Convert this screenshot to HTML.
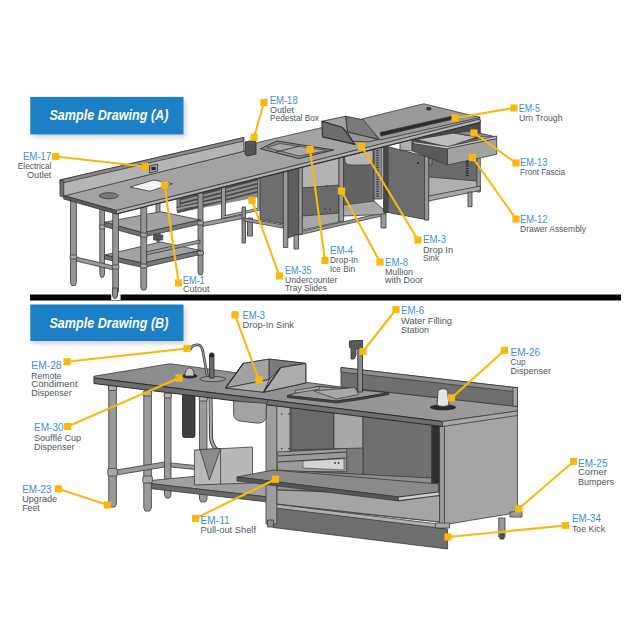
<!DOCTYPE html><html><head><meta charset="utf-8"><style>html,body{margin:0;padding:0;background:#fff;width:640px;height:640px;overflow:hidden}svg{display:block}text{font-family:"Liberation Sans",sans-serif}</style></head><body>
<svg width="640" height="640" viewBox="0 0 640 640">
<defs><filter id="sh" x="-10%" y="-20%" width="130%" height="160%"><feGaussianBlur stdDeviation="2"/></filter></defs>
<g id="drawA" stroke-linejoin="round">
<!-- ===== Tray slides section ===== -->
<g stroke="#3a3a3a" stroke-width="0.8">
  <polygon points="177,194 259,173 259,197 177,213" fill="#8c8c8c" stroke="none"/>
  <g stroke="#4a4a4a" stroke-width="2.4" fill="none">
  <line x1="177" y1="196" x2="259" y2="175.0"/>
  <line x1="177" y1="200" x2="259" y2="179.0"/>
  <line x1="177" y1="204" x2="259" y2="183.0"/>
  <line x1="177" y1="208" x2="259" y2="187.0"/>
  <line x1="177" y1="212" x2="259" y2="191.0"/>
  </g>
  <g stroke="#bdbdbd" stroke-width="0.6" fill="none">
  <line x1="177" y1="195" x2="259" y2="174.0"/>
  <line x1="177" y1="199" x2="259" y2="178.0"/>
  <line x1="177" y1="203" x2="259" y2="182.0"/>
  <line x1="177" y1="207" x2="259" y2="186.0"/>
  <line x1="177" y1="211" x2="259" y2="190.0"/>
  </g>
  
  <rect x="177" y="195" width="3" height="13" fill="#8a8a8a"/>
  <rect x="221.5" y="185" width="4" height="34" fill="#9a9a9a"/>
  <path d="M224,217 L259,209 L259,176" fill="none" stroke="#3a3a3a" stroke-width="3"/>
  <path d="M224,217 L259,209 L259,176" fill="none" stroke="#a8a8a8" stroke-width="1.6"/>
  <polygon points="177,207.5 221.5,198 221.5,201 177,210.5" fill="#9a9a9a"/>
  <polygon points="200,223 245,214.5 245,218 200,227" fill="#9a9a9a"/>
  <rect x="242" y="207" width="3.5" height="36" fill="#8f8f8f"/>
  <rect x="247.5" y="218" width="5" height="18" fill="#8f8f8f"/>
</g>
<!-- ===== Table 1 legs & shelves ===== -->
<g fill="#959595" stroke="#3a3a3a" stroke-width="0.8">
  <path d="M99.8,208 L104.5,208 L104.5,274.3 L103.3,277.3 L101.0,277.3 L99.8,274.3 Z"/><path d="M156,202 L160,202 L160,239 L158.8,242 L157.2,242 L156,239 Z"/><path d="M198,190 L203,190 L203,272 L201.8,275 L199.2,275 L198,272 Z"/>
  <!-- lower shelf -->
  <polygon points="104.5,255 160.7,242 200.5,250.4 143,263" fill="#a2a2a2"/>
  <polygon points="104.5,255 143,263 143,267.5 104.5,259" fill="#6e6e6e"/>
  <polygon points="143,263 200.5,250.4 200.5,254.5 143,267.5" fill="#7a7a7a"/>
  <!-- upper shelf -->
  <polygon points="104.5,222.2 160.7,211.7 200.5,220 143,232.8" fill="#a2a2a2"/>
  <polygon points="104.5,222.2 143,232.8 143,237 104.5,226.5" fill="#6e6e6e"/>
  <polygon points="143,232.8 200.5,220 200.5,224 143,237" fill="#7a7a7a"/>
  <!-- crossbars -->
  <polygon points="71.7,256 113.9,266 113.9,270 71.7,260" fill="#9a9a9a"/>
  <polygon points="146,252 200,240 200,243 146,255" fill="#9a9a9a"/>
  <rect x="153.7" y="235" width="9" height="5" fill="#555"/>
  <!-- front legs -->
  <path d="M70.5,200 L76.4,200 L76.4,282.5 L75.2,285.5 L71.7,285.5 L70.5,282.5 Z"/><path d="M112.7,210 L118.5,210 L118.5,291 L117.3,294 L113.9,294 L112.7,291 Z"/><path d="M140.8,205 L146.70000000000002,205 L146.70000000000002,287 L145.50000000000003,290 L142.0,290 L140.8,287 Z"/>
  <rect x="70.1" y="255" width="6.7" height="4" rx="1.2" fill="#a8a8a8"/><rect x="112.3" y="265" width="6.6" height="4" rx="1.2" fill="#a8a8a8"/><rect x="140.4" y="233" width="6.7" height="4" rx="1.2" fill="#a8a8a8"/><rect x="140.4" y="264" width="6.7" height="4" rx="1.2" fill="#a8a8a8"/><rect x="99.39999999999999" y="225" width="5.5" height="4" rx="1.2" fill="#a8a8a8"/><rect x="197.6" y="221" width="5.8" height="4" rx="1.2" fill="#a8a8a8"/><rect x="197.6" y="251" width="5.8" height="4" rx="1.2" fill="#a8a8a8"/>
</g>
<!-- ===== Ice bin cabinet ===== -->
<g stroke="#3a3a3a" stroke-width="0.8">
  <polygon points="260,177.5 283.4,171.5 283.4,224 260,219.7" fill="#6e6e6e"/>
  <polygon points="243.75,218 283,225 283,228 243.75,221" fill="#9a9a9a"/>
  <polygon points="287.8,170 299,167 299,234 287.8,238" fill="#5e5e5e"/>
  <polygon points="302,162 339,154 339,188 302,188" fill="#b2b2b2"/>
  <polygon points="302,188 339,185 339,215 302,216" fill="#6a6a6a"/>
  <polygon points="302,216 339,213 339,222 302,230" fill="#a6a6a6"/>
  <circle cx="327" cy="186" r="0.8" fill="#333" stroke="none"/>
  <circle cx="325" cy="209" r="0.8" fill="#333" stroke="none"/>
  <circle cx="330" cy="209" r="0.8" fill="#333" stroke="none"/>
  <polygon points="298.75,232 386,212 386,215 298.75,235" fill="#9a9a9a"/>
  <rect x="283.4" y="171.5" width="4.4" height="76" fill="#9a9a9a"/>
  <rect x="298.75" y="166" width="3.5" height="68" fill="#9a9a9a"/>
  <rect x="294" y="235" width="4.5" height="14" fill="#9a9a9a"/>
  <rect x="339" y="156.4" width="4.6" height="65" fill="#9a9a9a"/>
</g>
<!-- ===== Sink / door cabinet ===== -->
<g stroke="#3a3a3a" stroke-width="0.8">
  <polygon points="343.6,152 374,146 374,203.5 343.6,206" fill="#636363"/>
  <path d="M344.7,155 L373,150 L373,161 Q372,165 366,165 L350,165 Q345,164.5 344.7,160 Z" fill="#b6b6b6"/>
  <polygon points="343.6,205 374,201 384,210 384,214.4 343.6,216" fill="#a8a8a8"/>
  <rect x="374" y="147" width="8" height="52" fill="#8a8a8a"/>
  <line x1="377.5" y1="150" x2="377.5" y2="197" stroke="#333" stroke-width="2.2" stroke-dasharray="1.2,1.2"/>
  <rect x="381" y="214" width="5" height="14" fill="#9a9a9a"/>
  <polygon points="383.75,145.6 428,157 428,220 383.75,211.7" fill="#6c6c6c"/>
  <polygon points="383.75,145.6 388,146.7 388,212.5 383.75,211.7" fill="#4a4a4a"/>
  <circle cx="418" cy="163" r="0.9" fill="#222" stroke="none"/>
</g>
<!-- ===== Drawer cabinet ===== -->
<g stroke="#3a3a3a" stroke-width="0.8">
  <polygon points="428,140 478,126 478,190 428,200" fill="#6a6a6a"/>
  <polygon points="428.7,177 477,181 477,190 428.7,198" fill="#b0b0b0"/>
  <polygon points="459,125.6 477,121 477,133 459,136" fill="#b4b4b4"/>
  <line x1="467.2" y1="161" x2="467.2" y2="176" stroke="#2a2a2a" stroke-width="3" stroke-dasharray="1.2,1.1"/>
  <rect x="429" y="158" width="3" height="7" fill="#8a8a8a"/>
  <rect x="424.6" y="156" width="4.1" height="64" fill="#9a9a9a"/>
  <rect x="477" y="120" width="3.3" height="72" fill="#9a9a9a"/>
  <polygon points="428.7,196 480.3,186 480.3,190.5 428.7,201" fill="#a6a6a6"/>
  <rect x="468" y="192" width="4" height="14.7" fill="#9a9a9a"/>
  <!-- drawer -->
  <polygon points="400,140 480,122 480,138 400,151" fill="#4a4a4a" stroke="none"/>
  <polygon points="400,141 412,139 412,151 400,150" fill="#b0b0b0"/>
  <polygon points="416.4,139.5 454,133 477,137 447.5,147" fill="#bdbdbd"/>
  <polygon points="454,133 477,137 496.7,137 470,131" fill="#8a8a8a"/>
  <polygon points="412.3,142.5 447.5,148 447.5,165 412.3,151" fill="#5a5a5a"/>
  <polygon points="413,141.5 447.5,146.5 496.7,136 496.7,138.7 447.5,149 413,143.5" fill="#c6c6c6"/>
  <polygon points="447.5,148.5 496.7,138.7 496.7,154.3 447.5,165" fill="#a2a2a2"/>
</g>
<!-- ===== Counter tops ===== -->
<g stroke="#3a3a3a" stroke-width="0.8">
  <!-- table1 surface -->
  <polygon points="63.75,195.5 243.75,151.25 257.5,142.5 322.5,127.5 365,119 480,117 480,119 116.25,210.5" fill="#a3a3a3"/>
  <!-- front edge strip -->
  <polygon points="116.25,210.5 480,119 480,122.5 116.25,214" fill="#b0b0b0"/>
  <line x1="116.25" y1="214" x2="480" y2="122.5" stroke="#333" stroke-width="1.2"/>
  <polygon points="63.75,195.5 116.25,210.5 116.25,214 63.75,199" fill="#5a5a5a"/>
  <!-- backsplash -->
  <polygon points="60,180 243.75,137.5 243.75,151.25 63.75,196" fill="#b5b5b5"/>
  <polygon points="60,180 243.75,137.5 243.75,141 60,183.5" fill="#8a8a8a"/>
  <polygon points="60,180 63.75,181 63.75,197 60,196" fill="#707070"/>
</g>
<!-- cutout & hole & outlet -->
<polygon points="130,187 153.75,180 172.5,183.75 150,191.25" fill="#f4f4f4" stroke="#3a3a3a" stroke-width="0.8"/>
<ellipse cx="108.75" cy="195.75" rx="9.5" ry="3" fill="#7a7a7a" stroke="#3a3a3a" stroke-width="0.8"/>
<polygon points="149.5,166 157.5,164 157.5,171 149.5,173" fill="#9a9a9a" stroke="#333" stroke-width="0.8"/>
<rect x="151.5" y="167" width="4" height="3" fill="#222"/>
<!-- pedestal box -->
<polygon points="245,142 254,140 256,142 256,154 247,156 245,154" fill="#555" stroke="#2a2a2a" stroke-width="0.8"/>
<!-- ice bin lid -->
<polygon points="260.5,148.75 277,141 333.75,150 298.75,158.6" fill="#8a8a8a" stroke="#2a2a2a" stroke-width="0.9"/>
<polygon points="267,147.5 280,143.5 327,150.5 299,156" fill="#a8a8a8" stroke="#3a3a3a" stroke-width="0.7"/>
<line x1="276" y1="152" x2="300" y2="146" stroke="#333" stroke-width="0.9"/>
<!-- drop-in sink trough A -->
<g stroke="#2e2e2e" stroke-width="0.8">
  <polygon points="347.5,131.9 378.75,139.4 368.75,141.9 352.5,141.25" fill="#959595"/>
  <polygon points="345.6,116.25 365,120 378.75,139.4 347.5,131.9" fill="#7a7a7a"/>
  <polygon points="321.9,121.25 345.6,116.25 347.5,131.9 342.5,127.5" fill="#a0a0a0"/>
  <polygon points="321.9,121.25 342.5,127.5 355,144.4 322.5,136.9" fill="#6d6d6d" stroke-width="1.1"/>
</g>
<!-- urn trough raised counter -->
<g stroke="#3a3a3a" stroke-width="0.8">
  <polygon points="362.5,118.75 423.75,103.75 480,117.5 380,140" fill="#9a9a9a"/>
  <polygon points="380,132.5 457.5,115 458,118 381,136" fill="#2a2a2a"/>
  <ellipse cx="428.75" cy="108.75" rx="2.5" ry="1.4" fill="#333"/>
</g>
</g>
<g id="drawB" stroke-linejoin="round">
<!-- ===== left table B legs, undershelf ===== -->
<g fill="#9a9a9a" stroke="#3a3a3a" stroke-width="0.8">
  <path d="M164.5,393 L171.0,393 L171.0,495 L169.5,498 L166.0,498 L164.5,495 Z"/><rect x="164.2" y="393" width="7.1" height="5" rx="1.5" fill="#b0b0b0"/>
  <path d="M199.5,396 L207.0,396 L207.0,499 L205.5,502 L201.0,502 L199.5,499 Z"/><rect x="199.2" y="396" width="8.1" height="5" rx="1.5" fill="#b0b0b0"/>
  <polygon points="171,463 200,466 200,470 171,467" />
  <!-- undershelf -->
  <polygon points="145,481 220,474 268,477 268,497 145,483" fill="#a0a0a0"/>
  <polygon points="145,483 268,497 268,502 145,488" fill="#6a6a6a"/>
  <path d="M108.75,385.5 L116.4,385.5 L116.4,504 L114.9,507 L110.25,507 L108.75,504 Z"/><rect x="108.45" y="385.5" width="8.25" height="5" rx="1.5" fill="#b0b0b0"/>
  <path d="M143.75,391 L151.4,391 L151.4,508 L149.9,511 L145.25,511 L143.75,508 Z"/><rect x="143.45" y="391" width="8.25" height="5" rx="1.5" fill="#b0b0b0"/>
  <polygon points="116.4,470 164.5,462 164.5,467 116.4,475" />
  <rect x="107.8" y="468.5" width="9.6" height="7.5" rx="1.5" fill="#a8a8a8"/>
  <rect x="142.8" y="476" width="9.6" height="7" rx="1.5" fill="#a8a8a8"/>
</g>
<!-- souffle tube -->
<rect x="182.5" y="393.75" width="12.5" height="43.75" rx="2" fill="#3f3f3f" stroke="#222" stroke-width="0.8"/>
<!-- drain pipe -->
<path d="M210.5,396 L211,438 Q212,448 222,454" fill="none" stroke="#3a3a3a" stroke-width="4"/>
<path d="M210.5,396 L211,438 Q212,448 222,454" fill="none" stroke="#a8a8a8" stroke-width="2.2"/>
<!-- ice bin box -->
<g stroke="#3a3a3a" stroke-width="0.8">
  <polygon points="194.4,450 252.5,447 252.5,483 194.4,485" fill="#b8b8b8"/>
  <polygon points="200,449.5 220.6,448.5 209.4,480" fill="#8c8c8c"/>
  <line x1="220.6" y1="448.5" x2="220.6" y2="484.5" />
</g>
<!-- ===== cabinet B interior ===== -->
<g stroke="#3a3a3a" stroke-width="0.8">
  <polygon points="276,404 440,420 440,522 276,505" fill="#8a8a8a"/>
  <polygon points="276,405 290,406.7 290,463 276,463" fill="#b0b0b0"/>
  <polygon points="291,407 334,410 334,450 291,452" fill="#6a6a6a"/>
  <polygon points="334,411 363,413 363,450 334,450" fill="#a8a8a8"/>
  <polygon points="363,414 431.5,421 431.5,484 363,478" fill="#6f6f6f"/>
  <polygon points="291,450 363,448 363,478 291,470" fill="#7a7a7a"/>
  <polygon points="277,452 346.7,448.5 346.7,471.7 277,471.7" fill="#9a9a9a"/>
  <line x1="278" y1="456" x2="346" y2="452" stroke="#3a3a3a" stroke-width="1"/>
  <line x1="278" y1="462" x2="346" y2="458" stroke="#3a3a3a" stroke-width="1"/>
  <polygon points="303,461 344,458.7 344,470 303,468" fill="#d4d4d4" stroke-width="0.6"/>
  <circle cx="335" cy="463" r="0.9" fill="#333" stroke="none"/>
  <circle cx="338.5" cy="463" r="0.9" fill="#333" stroke="none"/>
  <circle cx="281.7" cy="414" r="0.8" fill="#333" stroke="none"/>
  <circle cx="289" cy="414" r="0.8" fill="#333" stroke="none"/>
  <circle cx="281.7" cy="448.6" r="0.8" fill="#333" stroke="none"/>
  <circle cx="289" cy="448.6" r="0.8" fill="#333" stroke="none"/>
  <polygon points="276.8,470 431.5,478 431.5,495 276.8,490" fill="#8e8e8e"/>
  <polygon points="276.8,490 440,496 440,522 276.8,504" fill="#a5a5a5"/>
  <polygon points="270,503.5 442,524.5 442,529 270,509" fill="#b0b0b0"/>
  <rect x="432" y="421" width="7.5" height="62" fill="#2e2e2e"/>
  <!-- toe kick -->
  <polygon points="273,507.7 447.6,529 447.6,549 273,527.5" fill="#6e6e6e"/>
  <!-- left post -->
  <rect x="266" y="401" width="10.8" height="123" fill="#9d9d9d"/>
  <rect x="267.5" y="520" width="6" height="7" fill="#8a8a8a"/>
  <!-- pull-out shelf -->
  <polygon points="237,477 273,470 438.6,484 438.6,492 399,497" fill="#8a8a8a"/>
  <polygon points="237,477 399,497 438.6,492 438.6,495.5 399,501 237,481" fill="#555"/>
  <polygon points="399,497.5 438.6,492.5 438.6,495 399,500" fill="#d0d0d0" stroke="none"/>
</g>
<!-- right side panel -->
<g stroke="#3a3a3a" stroke-width="0.8">
  <polygon points="442.5,423.75 517.5,413.75 517.5,512.5 442.5,525" fill="#a5a5a5"/>
  <polygon points="439.5,423 444.5,423 444.5,524 439.5,524" fill="#9a9a9a"/>
  <polygon points="435.4,523 449.6,523 449.6,528 435.4,528" fill="#a8a8a8"/>
  <polygon points="510,512 522,511 522,517 510,517" fill="#9a9a9a"/>
  <rect x="498.75" y="518" width="6.25" height="19" fill="#9a9a9a"/>
  <rect x="500" y="534" width="4" height="5" fill="#555"/>
</g>
<!-- ===== table B top ===== -->
<g stroke="#3a3a3a" stroke-width="0.8">
  <linearGradient id="tbB" x1="90" y1="0" x2="520" y2="0" gradientUnits="userSpaceOnUse"><stop offset="0" stop-color="#8a8a8a"/><stop offset="1" stop-color="#9c9c9c"/></linearGradient>
  <polygon points="93.75,376.25 170,363.75 341,387 517.5,406.5 517.5,411 442.5,421.5 94,378" fill="url(#tbB)"/>
  <polygon points="94,378 442.5,421.5 442.5,426.5 94,383.5" fill="#6e6e6e" stroke="#2a2a2a" stroke-width="1"/>
  <polygon points="442.5,421.5 517.5,411 517.5,415.5 442.5,426.5" fill="#a8a8a8"/>
  <line x1="267.5" y1="399" x2="267.5" y2="402" />
  <!-- backsplash -->
  <polygon points="341,367.5 517.5,387.8 517.5,406.5 341,387" fill="#6f6f6f"/>
  <polygon points="341,367.5 517.5,387.8 517.5,392 341,372" fill="#8e8e8e"/>
  <polygon points="513,387.3 517.5,387.8 517.5,406.5 513,406" fill="#a6a6a6"/>
</g>
<!-- sink bowl -->
<path d="M233.6,401 L266.4,403.4 L266,418 Q264,424 256,423 L240,421 Q234,420 233.6,414 Z" fill="#a3a3a3" stroke="#3a3a3a" stroke-width="0.8"/>
<!-- trough B -->
<g stroke="#333" stroke-width="0.8">
  <polygon points="243.2,363.4 269.2,359.1 305.8,363.4 305.8,383 263.6,392.2 225.6,388" fill="#a6a6a6"/>
  <polygon points="243.2,363.4 269.2,359.1 269.2,379.5 225.6,388" fill="#a2a2a2"/>
  <polygon points="269.2,359.1 305.8,363.4 280.5,367.6 269.2,379.5" fill="#7c7c7c"/>
  <polygon points="225.6,388 269.2,379.5 263.6,392.2" fill="#b0b0b0"/>
  <polygon points="280.5,367.6 305.8,363.4 305.8,383 263.6,392.2" fill="#acacac" stroke-width="1"/>
  <line x1="280.5" y1="367.6" x2="263.6" y2="392.2" stroke="#2a2a2a" stroke-width="1.3"/>
  <line x1="243.2" y1="363.4" x2="225.6" y2="388" stroke="#2a2a2a" stroke-width="1.1"/>
</g>
<!-- faucet, tap, condiment -->
<path d="M190,350 Q192,344 199,345 Q202,346 203,352 L207.5,377" fill="none" stroke="#333" stroke-width="2.6"/>
<path d="M190,350 Q192,344 199,345 Q202,346 203,352 L207.5,377" fill="none" stroke="#a0a0a0" stroke-width="1.2"/>
<ellipse cx="212.8" cy="379" rx="13" ry="2.6" fill="#9a9a9a" stroke="#3a3a3a" stroke-width="0.8"/>
<rect x="209.5" y="355" width="4.5" height="23" fill="#6a6a6a" stroke="#2a2a2a" stroke-width="0.8"/>
<ellipse cx="211.75" cy="355" rx="2.6" ry="2.6" fill="#2a2a2a"/>
<ellipse cx="189.8" cy="376" rx="7.6" ry="2.4" fill="#2a2a2a"/>
<path d="M185,376 Q185,368 189.5,368 Q194,368 194,376 Z" fill="#c8c8c8" stroke="#3a3a3a" stroke-width="0.8"/>
<!-- water filling station -->
<g stroke="#333" stroke-width="0.9">
  <polygon points="287.5,395.6 318.4,386.3 360,390 388.8,392.8 360.6,397.5 336.3,401" fill="#9c9c9c"/>
  <polygon points="287.5,395.6 336.3,401 360.6,397.5 388.8,392.8 388.8,394.5 360.6,399.5 336.3,403 287.5,397.5" fill="#444"/>
  <polygon points="295,390.5 319,386.5 320,389 296,393" fill="#b0b0b0" stroke-width="0.7"/>
  <polygon points="313.75,391 355,387.5 358.8,394.5 336.3,399" fill="#a8a8a8" stroke-width="0.7"/>
  <rect x="357.8" y="344" width="4.7" height="48" fill="#8a8a8a"/>
  <polygon points="349.4,341 362.5,340.3 362.5,348.75 356,348.75 356,355 354,359 351,359 351,348.75 349.4,347" fill="#5a5a5a"/>
</g>
<!-- cup dispenser -->
<ellipse cx="443" cy="407.3" rx="13" ry="3" fill="#2a2a2a"/>
<path d="M437,405.5 L438,391.5 Q438.5,388.7 442.8,388.7 Q447.2,388.7 447.6,391.5 L449,405.5 Q443,407.5 437,405.5 Z" fill="#e4e4e4" stroke="#3a3a3a" stroke-width="0.9"/>
</g>

<rect x="30" y="294.5" width="591" height="6" fill="#050508"/>
<rect x="111.2" y="294" width="9.3" height="6" fill="#fff"/>
<path d="M112.5,288 L117.5,288 L117.5,296 L116,298.4 L114,298.4 L112.5,296 Z" fill="#8f8f8f" stroke="#3a3a3a" stroke-width="0.8"/>
<rect x="32" y="99.9" width="154" height="37.5" fill="#bbb" opacity="0.6" filter="url(#sh)"/>
<rect x="30.3" y="96.9" width="153.2" height="37.5" fill="#1b80c6"/>
<rect x="32" y="307.5" width="154" height="36.5" fill="#bbb" opacity="0.6" filter="url(#sh)"/>
<rect x="30.3" y="304.5" width="153.2" height="36.5" fill="#1b80c6"/>
<text x="49.4" y="120" font-size="15.4" font-style="italic" font-weight="bold" fill="#fff" textLength="119" lengthAdjust="spacingAndGlyphs">Sample Drawing (A)</text>
<text x="49.4" y="328" font-size="15.4" font-style="italic" font-weight="bold" fill="#fff" textLength="119" lengthAdjust="spacingAndGlyphs">Sample Drawing (B)</text>
<line x1="55.5" y1="156.5" x2="145" y2="166.5" stroke="#f8b80e" stroke-width="2.1"/>
<rect x="51.9" y="152.9" width="7.2" height="7.2" fill="#f8b80e"/>
<rect x="141.4" y="162.9" width="7.2" height="7.2" fill="#f8b80e"/>
<line x1="264" y1="102.5" x2="254" y2="137.3" stroke="#f8b80e" stroke-width="2.1"/>
<rect x="260.4" y="98.9" width="7.2" height="7.2" fill="#f8b80e"/>
<rect x="250.4" y="133.7" width="7.2" height="7.2" fill="#f8b80e"/>
<line x1="514" y1="108" x2="455" y2="118" stroke="#f8b80e" stroke-width="2.1"/>
<rect x="510.4" y="104.4" width="7.2" height="7.2" fill="#f8b80e"/>
<rect x="451.4" y="114.4" width="7.2" height="7.2" fill="#f8b80e"/>
<line x1="516" y1="163" x2="474" y2="133" stroke="#f8b80e" stroke-width="2.1"/>
<rect x="512.4" y="159.4" width="7.2" height="7.2" fill="#f8b80e"/>
<rect x="470.4" y="129.4" width="7.2" height="7.2" fill="#f8b80e"/>
<line x1="516" y1="219" x2="472.5" y2="157.5" stroke="#f8b80e" stroke-width="2.1"/>
<rect x="512.4" y="215.4" width="7.2" height="7.2" fill="#f8b80e"/>
<rect x="468.9" y="153.9" width="7.2" height="7.2" fill="#f8b80e"/>
<line x1="418" y1="240" x2="361.5" y2="146.5" stroke="#f8b80e" stroke-width="2.1"/>
<rect x="414.4" y="236.4" width="7.2" height="7.2" fill="#f8b80e"/>
<rect x="357.9" y="142.9" width="7.2" height="7.2" fill="#f8b80e"/>
<line x1="380" y1="262" x2="341.5" y2="191" stroke="#f8b80e" stroke-width="2.1"/>
<rect x="376.4" y="258.4" width="7.2" height="7.2" fill="#f8b80e"/>
<rect x="337.9" y="187.4" width="7.2" height="7.2" fill="#f8b80e"/>
<line x1="325" y1="260.5" x2="310" y2="149.5" stroke="#f8b80e" stroke-width="2.1"/>
<rect x="321.4" y="256.9" width="7.2" height="7.2" fill="#f8b80e"/>
<rect x="306.4" y="145.9" width="7.2" height="7.2" fill="#f8b80e"/>
<line x1="279.5" y1="276" x2="252" y2="200.4" stroke="#f8b80e" stroke-width="2.1"/>
<rect x="275.9" y="272.4" width="7.2" height="7.2" fill="#f8b80e"/>
<rect x="248.4" y="196.8" width="7.2" height="7.2" fill="#f8b80e"/>
<line x1="178.6" y1="283" x2="164.5" y2="185" stroke="#f8b80e" stroke-width="2.1"/>
<rect x="175.0" y="279.4" width="7.2" height="7.2" fill="#f8b80e"/>
<rect x="160.9" y="181.4" width="7.2" height="7.2" fill="#f8b80e"/>
<line x1="235" y1="314.8" x2="259" y2="380" stroke="#f8b80e" stroke-width="2.1"/>
<rect x="231.4" y="311.2" width="7.2" height="7.2" fill="#f8b80e"/>
<rect x="255.4" y="376.4" width="7.2" height="7.2" fill="#f8b80e"/>
<line x1="396" y1="309.5" x2="363" y2="351.5" stroke="#f8b80e" stroke-width="2.1"/>
<rect x="392.4" y="305.9" width="7.2" height="7.2" fill="#f8b80e"/>
<rect x="359.4" y="347.9" width="7.2" height="7.2" fill="#f8b80e"/>
<line x1="504.5" y1="350.4" x2="451.5" y2="398" stroke="#f8b80e" stroke-width="2.1"/>
<rect x="500.9" y="346.8" width="7.2" height="7.2" fill="#f8b80e"/>
<rect x="447.9" y="394.4" width="7.2" height="7.2" fill="#f8b80e"/>
<line x1="67" y1="361.8" x2="187" y2="348.5" stroke="#f8b80e" stroke-width="2.1"/>
<rect x="63.4" y="358.2" width="7.2" height="7.2" fill="#f8b80e"/>
<rect x="183.4" y="344.9" width="7.2" height="7.2" fill="#f8b80e"/>
<line x1="67.7" y1="426.5" x2="179" y2="378" stroke="#f8b80e" stroke-width="2.1"/>
<rect x="64.1" y="422.9" width="7.2" height="7.2" fill="#f8b80e"/>
<rect x="175.4" y="374.4" width="7.2" height="7.2" fill="#f8b80e"/>
<line x1="58.3" y1="488.8" x2="107.5" y2="505" stroke="#f8b80e" stroke-width="2.1"/>
<rect x="54.7" y="485.2" width="7.2" height="7.2" fill="#f8b80e"/>
<rect x="103.9" y="501.4" width="7.2" height="7.2" fill="#f8b80e"/>
<line x1="195.5" y1="518.4" x2="275.5" y2="479.2" stroke="#f8b80e" stroke-width="2.1"/>
<rect x="191.9" y="514.8" width="7.2" height="7.2" fill="#f8b80e"/>
<rect x="271.9" y="475.6" width="7.2" height="7.2" fill="#f8b80e"/>
<line x1="573.5" y1="461.5" x2="518.7" y2="508.7" stroke="#f8b80e" stroke-width="2.1"/>
<rect x="569.9" y="457.9" width="7.2" height="7.2" fill="#f8b80e"/>
<rect x="515.1" y="505.1" width="7.2" height="7.2" fill="#f8b80e"/>
<line x1="565.5" y1="525.5" x2="448" y2="537" stroke="#f8b80e" stroke-width="2.1"/>
<rect x="561.9" y="521.9" width="7.2" height="7.2" fill="#f8b80e"/>
<rect x="444.4" y="533.4" width="7.2" height="7.2" fill="#f8b80e"/>
<text x="51.4" y="159.5" font-size="10.4" fill="#3b8fd2" text-anchor="end" textLength="28.5" lengthAdjust="spacingAndGlyphs">EM-17</text>
<text x="51.4" y="169" font-size="9.7" fill="#4d5660" text-anchor="end" textLength="33.6" lengthAdjust="spacingAndGlyphs">Electrical</text>
<text x="51.4" y="177.5" font-size="9.7" fill="#4d5660" text-anchor="end" textLength="24.4" lengthAdjust="spacingAndGlyphs">Outlet</text>
<text x="269.7" y="104" font-size="10.4" fill="#3b8fd2" text-anchor="start" textLength="28" lengthAdjust="spacingAndGlyphs">EM-18</text>
<text x="270" y="113" font-size="9.7" fill="#4d5660" text-anchor="start" textLength="24" lengthAdjust="spacingAndGlyphs">Outlet</text>
<text x="270" y="121" font-size="9.7" fill="#4d5660" text-anchor="start" textLength="49" lengthAdjust="spacingAndGlyphs">Pedestal Box</text>
<text x="518.8" y="112" font-size="10.4" fill="#3b8fd2" text-anchor="start" textLength="21.2" lengthAdjust="spacingAndGlyphs">EM-5</text>
<text x="519" y="121" font-size="9.7" fill="#4d5660" text-anchor="start" textLength="43.5" lengthAdjust="spacingAndGlyphs">Urn Trough</text>
<text x="520" y="166" font-size="10.4" fill="#3b8fd2" text-anchor="start" textLength="27.5" lengthAdjust="spacingAndGlyphs">EM-13</text>
<text x="520" y="175" font-size="9.7" fill="#4d5660" text-anchor="start" textLength="45" lengthAdjust="spacingAndGlyphs">Front Fascia</text>
<text x="520" y="223" font-size="10.4" fill="#3b8fd2" text-anchor="start" textLength="27.5" lengthAdjust="spacingAndGlyphs">EM-12</text>
<text x="520" y="232" font-size="9.7" fill="#4d5660" text-anchor="start" textLength="66" lengthAdjust="spacingAndGlyphs">Drawer Assembly</text>
<text x="423" y="243.4" font-size="10.4" fill="#3b8fd2" text-anchor="start" textLength="23" lengthAdjust="spacingAndGlyphs">EM-3</text>
<text x="423" y="253" font-size="9.7" fill="#4d5660" text-anchor="start" textLength="30" lengthAdjust="spacingAndGlyphs">Drop In</text>
<text x="423" y="260.6" font-size="9.7" fill="#4d5660" text-anchor="start" textLength="16" lengthAdjust="spacingAndGlyphs">Sink</text>
<text x="385" y="266" font-size="10.4" fill="#3b8fd2" text-anchor="start" textLength="23" lengthAdjust="spacingAndGlyphs">EM-8</text>
<text x="385" y="275" font-size="9.7" fill="#4d5660" text-anchor="start" textLength="28" lengthAdjust="spacingAndGlyphs">Mullion</text>
<text x="385" y="283" font-size="9.7" fill="#4d5660" text-anchor="start" textLength="38" lengthAdjust="spacingAndGlyphs">with Door</text>
<text x="330" y="254" font-size="10.4" fill="#3b8fd2" text-anchor="start" textLength="23" lengthAdjust="spacingAndGlyphs">EM-4</text>
<text x="330" y="263" font-size="9.7" fill="#4d5660" text-anchor="start" textLength="28" lengthAdjust="spacingAndGlyphs">Drop-In</text>
<text x="330" y="271.5" font-size="9.7" fill="#4d5660" text-anchor="start" textLength="25" lengthAdjust="spacingAndGlyphs">Ice Bin</text>
<text x="285" y="274" font-size="10.4" fill="#3b8fd2" text-anchor="start" textLength="26.5" lengthAdjust="spacingAndGlyphs">EM-35</text>
<text x="285" y="282.5" font-size="9.7" fill="#4d5660" text-anchor="start" textLength="52.5" lengthAdjust="spacingAndGlyphs">Undercounter</text>
<text x="285" y="291" font-size="9.7" fill="#4d5660" text-anchor="start" textLength="42" lengthAdjust="spacingAndGlyphs">Tray Slides</text>
<text x="182.8" y="283.5" font-size="10.4" fill="#3b8fd2" text-anchor="start" textLength="21.9" lengthAdjust="spacingAndGlyphs">EM-1</text>
<text x="183" y="292" font-size="9.7" fill="#4d5660" text-anchor="start" textLength="26.4" lengthAdjust="spacingAndGlyphs">Cutout</text>
<text x="242.5" y="318.8" font-size="10.4" fill="#3b8fd2" text-anchor="start" textLength="22.5" lengthAdjust="spacingAndGlyphs">EM-3</text>
<text x="242.5" y="327.5" font-size="9.9" fill="#4d5660" text-anchor="start" textLength="51.5" lengthAdjust="spacingAndGlyphs">Drop-In Sink</text>
<text x="401" y="314.4" font-size="10.4" fill="#3b8fd2" text-anchor="start" textLength="23" lengthAdjust="spacingAndGlyphs">EM-6</text>
<text x="401" y="323.8" font-size="9.9" fill="#4d5660" text-anchor="start" textLength="51" lengthAdjust="spacingAndGlyphs">Water Filling</text>
<text x="401" y="333" font-size="9.9" fill="#4d5660" text-anchor="start" textLength="28" lengthAdjust="spacingAndGlyphs">Station</text>
<text x="510.6" y="356" font-size="10.6" fill="#3b8fd2" text-anchor="start" textLength="29.4" lengthAdjust="spacingAndGlyphs">EM-26</text>
<text x="510.6" y="364.7" font-size="9.9" fill="#4d5660" text-anchor="start" textLength="15" lengthAdjust="spacingAndGlyphs">Cup</text>
<text x="510.6" y="374" font-size="9.9" fill="#4d5660" text-anchor="start" textLength="40.4" lengthAdjust="spacingAndGlyphs">Dispenser</text>
<text x="31.3" y="369" font-size="10.6" fill="#3b8fd2" text-anchor="start" textLength="30.3" lengthAdjust="spacingAndGlyphs">EM-28</text>
<text x="31.3" y="378.5" font-size="9.9" fill="#4d5660" text-anchor="start" textLength="30" lengthAdjust="spacingAndGlyphs">Remote</text>
<text x="31.3" y="387" font-size="9.9" fill="#4d5660" text-anchor="start" textLength="46.3" lengthAdjust="spacingAndGlyphs">Condiment</text>
<text x="31.3" y="396" font-size="9.9" fill="#4d5660" text-anchor="start" textLength="40.4" lengthAdjust="spacingAndGlyphs">Dispenser</text>
<text x="34" y="431.4" font-size="10.6" fill="#3b8fd2" text-anchor="start" textLength="29.6" lengthAdjust="spacingAndGlyphs">EM-30</text>
<text x="34" y="441" font-size="9.9" fill="#4d5660" text-anchor="start" textLength="47" lengthAdjust="spacingAndGlyphs">Soufflé Cup</text>
<text x="34" y="449.7" font-size="9.9" fill="#4d5660" text-anchor="start" textLength="40.4" lengthAdjust="spacingAndGlyphs">Dispenser</text>
<text x="22.2" y="493.4" font-size="10.6" fill="#3b8fd2" text-anchor="start" textLength="29.4" lengthAdjust="spacingAndGlyphs">EM-23</text>
<text x="22.2" y="502" font-size="9.9" fill="#4d5660" text-anchor="start" textLength="35" lengthAdjust="spacingAndGlyphs">Upgrade</text>
<text x="22.2" y="510.6" font-size="9.9" fill="#4d5660" text-anchor="start" textLength="17.5" lengthAdjust="spacingAndGlyphs">Feet</text>
<text x="200.6" y="523.8" font-size="10.6" fill="#3b8fd2" text-anchor="start" textLength="29.1" lengthAdjust="spacingAndGlyphs">EM-11</text>
<text x="200.6" y="532.8" font-size="9.9" fill="#4d5660" text-anchor="start" textLength="55.4" lengthAdjust="spacingAndGlyphs">Pull-out Shelf</text>
<text x="578" y="466.5" font-size="10.6" fill="#3b8fd2" text-anchor="start" textLength="29.5" lengthAdjust="spacingAndGlyphs">EM-25</text>
<text x="578" y="475" font-size="9.9" fill="#4d5660" text-anchor="start" textLength="29" lengthAdjust="spacingAndGlyphs">Corner</text>
<text x="578" y="485" font-size="9.9" fill="#4d5660" text-anchor="start" textLength="36" lengthAdjust="spacingAndGlyphs">Bumpers</text>
<text x="572" y="522" font-size="10.6" fill="#3b8fd2" text-anchor="start" textLength="29" lengthAdjust="spacingAndGlyphs">EM-34</text>
<text x="572" y="531.5" font-size="9.9" fill="#4d5660" text-anchor="start" textLength="33" lengthAdjust="spacingAndGlyphs">Toe Kick</text>
</svg></body></html>
